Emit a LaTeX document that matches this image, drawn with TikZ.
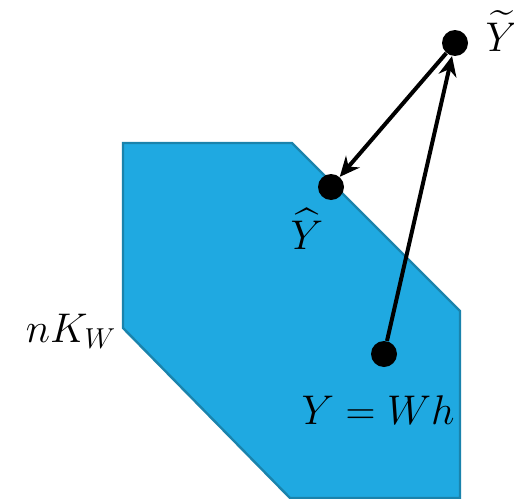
\documentclass[tikz,border=0pt]{standalone}
\usepackage{amsmath}
\usepackage{xcolor}
\usepackage{tikz}
\usetikzlibrary{arrows.meta}
\definecolor{kwfill}{HTML}{1FA9E1}
\definecolor{kwedge}{HTML}{1A83AC}

\begin{document}
\begin{tikzpicture}[x=0.5pt, y=-0.5pt,
  dot/.style={circle, fill=black, minimum size=13pt, inner sep=0pt},
  lbl/.style={inner sep=0pt, font=\fontsize{21}{26}\selectfont},
  arr/.style={line width=2pt, -{Stealth[length=10pt, width=9pt]}}]
  \useasboundingbox (0,0) rectangle (514,498);
  % the set n K_W
  \filldraw[fill=kwfill, draw=kwedge, line width=1.2pt]
    (123,143) -- (292,143) -- (460,311) -- (460,498) -- (290,498) -- (123,328) -- cycle;
  \node[lbl] (kwlbl) at (71,331) {$nK_W$};
  % points
  \node[dot] (ytilde) at (455,43) {};
  \node[dot] (yhat) at (331,187) {};
  \node[dot] (ywh) at (384,354) {};
  \node[lbl] (ytildelbl) at (502,31) {$\widetilde{Y}$};
  \node[lbl] (yhatlbl) at (307,229) {$\widehat{Y}$};
  \node[lbl] (ywhlbl) at (378,410) {$Y = Wh$};
  % arrows
  \draw[arr] (ywh) -- (ytilde);
  \draw[arr] (ytilde) -- (yhat);
\end{tikzpicture}
\end{document}
